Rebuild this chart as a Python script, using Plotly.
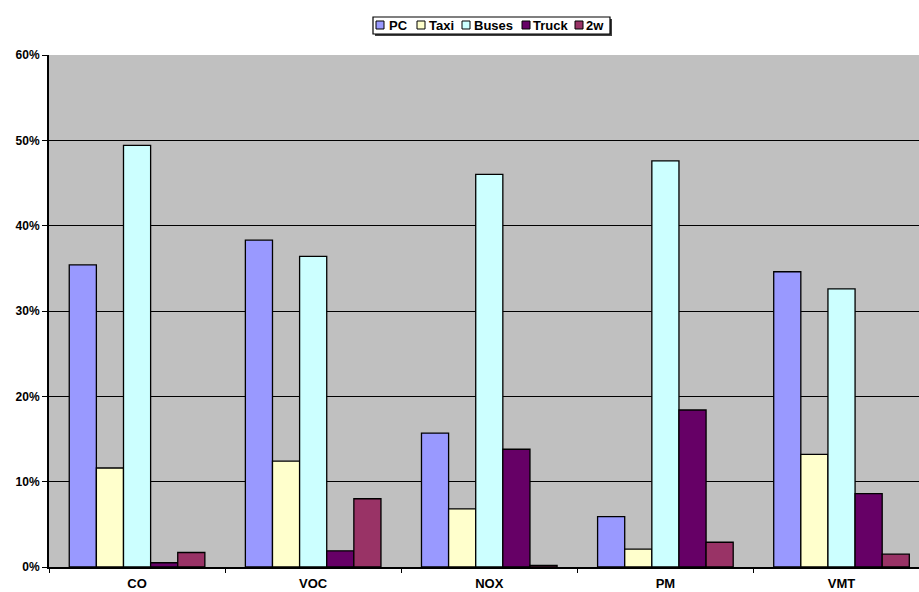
import plotly.graph_objects as go

categories = ["CO", "VOC", "NOX", "PM", "VMT"]
series_names = ["PC", "Taxi", "Buses", "Truck", "2w"]
pc = [0.354, 0.383, 0.157, 0.059, 0.346]
taxi = [0.116, 0.124, 0.068, 0.021, 0.132]
buses = [0.494, 0.364, 0.460, 0.476, 0.326]
truck = [0.005, 0.019, 0.138, 0.184, 0.086]
two_w = [0.017, 0.080, 0.002, 0.029, 0.015]
y_ticks = [0, 0.1, 0.2, 0.3, 0.4, 0.5, 0.6]

colors = ["#9999FF", "#FFFFCC", "#CCFFFF", "#660066", "#993366"]
values = [pc, taxi, buses, truck, two_w]

W, H = 919, 592
ML, MR, MT, MB = 49, 0, 55, 25
PW, PH = W - ML - MR, H - MT - MB
FONT = "Liberation Sans, Arial, sans-serif"


def px_x(x):
    return (x - ML) / PW


def px_y(y):
    return (H - MB - y) / PH


fig = go.Figure()
for name, vals, col in zip(series_names, values, colors):
    fig.add_trace(go.Bar(
        x=categories, y=vals, name=name,
        marker=dict(color=col, line=dict(color="#000000", width=1.3)),
    ))

# custom compact legend (Excel style)
shapes = []
annotations = []
shapes.append(dict(type="rect", xref="paper", yref="paper",
                   x0=px_x(375), x1=px_x(612), y0=px_y(36), y1=px_y(19),
                   fillcolor="#404040", line=dict(width=0), layer="above"))
shapes.append(dict(type="rect", xref="paper", yref="paper",
                   x0=px_x(373), x1=px_x(610), y0=px_y(34), y1=px_y(17),
                   fillcolor="white", line=dict(color="#000000", width=1.2), layer="above"))
swatch_x = [376, 417, 462, 522, 575]
text_x = [387, 427, 472, 531, 584]
for name, col, sx, tx in zip(series_names, colors, swatch_x, text_x):
    shapes.append(dict(type="rect", xref="paper", yref="paper",
                       x0=px_x(sx), x1=px_x(sx + 8), y0=px_y(29), y1=px_y(21),
                       fillcolor=col, line=dict(color="#000000", width=1), layer="above"))
    annotations.append(dict(text=name, xref="paper", yref="paper",
                            x=px_x(tx), y=px_y(25.5), xanchor="left", yanchor="middle",
                            showarrow=False,
                            font=dict(family=FONT, size=13, weight="bold", color="#000000")))

fig.update_layout(
    width=W, height=H,
    margin=dict(l=ML, r=MR, t=MT, b=MB),
    paper_bgcolor="white",
    plot_bgcolor="#C0C0C0",
    barmode="group",
    bargap=0.23,
    bargroupgap=0,
    font=dict(family=FONT, size=12, color="#000000"),
    showlegend=False,
    shapes=shapes,
    annotations=annotations,
    xaxis=dict(
        type="category",
        range=[-0.5, 4.44],
        showline=True, linecolor="#000000", linewidth=1.5,
        ticks="outside", ticklen=4, tickcolor="#000000", tickwidth=1,
        tickson="boundaries",
        showgrid=False,
        tickfont=dict(size=13, weight="bold"),
        ticklabelstandoff=4,
        fixedrange=True,
    ),
    yaxis=dict(
        range=[0, 0.6],
        tickvals=y_ticks,
        tickformat=".0%",
        showline=True, linecolor="#000000", linewidth=2,
        ticks="outside", ticklen=5, tickcolor="#000000", tickwidth=1,
        showgrid=True, gridcolor="#000000", gridwidth=1.2,
        zeroline=False,
        tickfont=dict(size=12, weight="bold"),
    ),
)

fig.write_html("out.html")
